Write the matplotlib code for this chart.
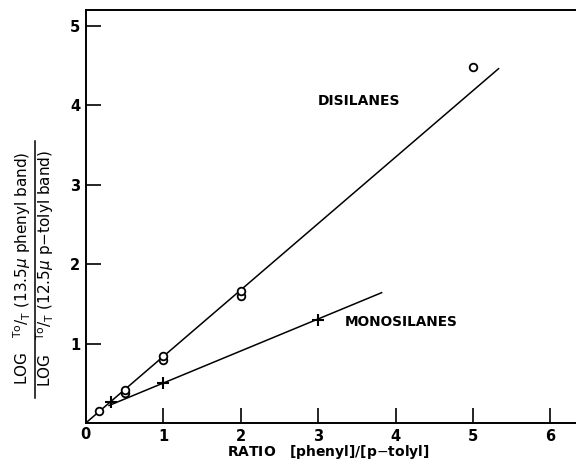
import matplotlib
matplotlib.use("Agg")
from matplotlib import pyplot as plt
from matplotlib.lines import Line2D

# data
di_x = [0.17, 0.5, 0.5, 1.0, 1.0, 2.0, 2.0, 5.0]
di_y = [0.15, 0.38, 0.42, 0.79, 0.84, 1.60, 1.66, 4.48]
mono_x = [0.32, 1.0, 3.0]
mono_y = [0.27, 0.50, 1.30]

# fitted lines as drawn (end points)
di_line_x = [0.0, 5.33]
di_line_y = [0.0, 4.46]
mono_line_x = [0.30, 3.82]
mono_line_y = [0.22, 1.64]

xticks = [1, 2, 3, 4, 5, 6]
yticks = [1, 2, 3, 4, 5]

plt.rcParams['font.family'] = ['DejaVu Sans']

fig = plt.figure(figsize=(5.76, 4.71), dpi=100)
ax = fig.add_axes([0.149, 0.102, 0.851, 0.877])

ax.plot(di_line_x, di_line_y, color='black', lw=1.1)
ax.plot(mono_line_x, mono_line_y, color='black', lw=1.1)
ax.plot(di_x, di_y, 'o', ms=5.5, mfc='white', mec='black', mew=1.3, ls='none')
ax.plot(mono_x, mono_y, '+', ms=8, color='black', mew=1.5, ls='none')

ax.set_xlim(0, 6.33)
ax.set_ylim(0, 5.2)
ax.spines['right'].set_visible(False)
for s in ['left', 'bottom', 'top']:
    ax.spines[s].set_linewidth(1.4)

ax.set_xticks(xticks)
ax.set_yticks(yticks)
ax.tick_params(direction='in', length=11, width=1.2, labelsize=10.5, pad=4)
for lab in ax.get_xticklabels() + ax.get_yticklabels():
    lab.set_fontweight('bold')
ax.text(0, -0.05, '0', transform=ax.transData, ha='center', va='top',
        fontsize=10.5, fontweight='bold')

ax.text(3.0, 4.05, 'DISILANES', fontsize=10, fontweight='bold',
        va='center', ha='left')
ax.text(3.34, 1.27, 'MONOSILANES', fontsize=9.8, fontweight='bold',
        va='center', ha='left')

fig.text(0.57, 0.04, r'RATIO   [phenyl]/[p$-$tolyl]', ha='center', va='center',
         fontsize=10, fontweight='bold')

# y label as a fraction
fig.text(0.038, 0.43, r'LOG   $^{\rm To}/_{\rm T}$ (13.5$\mu$ phenyl band)', rotation=90,
         ha='center', va='center', fontsize=11)
fig.text(0.078, 0.43, r'LOG   $^{\rm To}/_{\rm T}$ (12.5$\mu$ p$-$tolyl band)', rotation=90,
         ha='center', va='center', fontsize=11)
fig.add_artist(Line2D([0.060, 0.060], [0.155, 0.70], transform=fig.transFigure,
                      color='black', lw=1.1))

fig.savefig('out.png', dpi=100)
